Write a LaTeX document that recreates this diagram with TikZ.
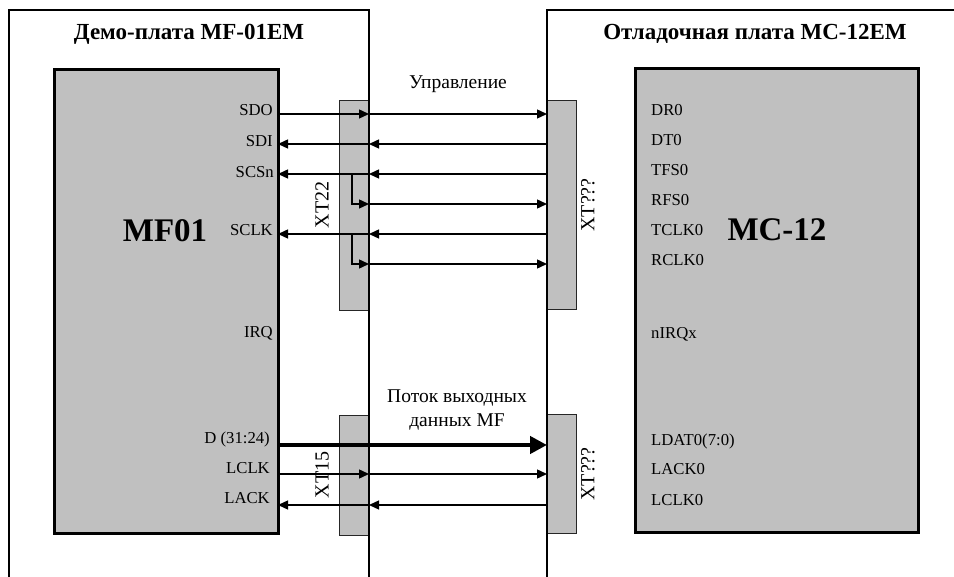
\documentclass[tikz,border=0pt]{standalone}
\usepackage{fontspec}
\setmainfont{Liberation Serif}
\usetikzlibrary{arrows.meta}
\definecolor{chipgray}{HTML}{C0C0C0}
\tikzset{
  board/.style={line width=1.5pt},
  chip/.style={draw, line width=3pt, fill=chipgray, inner sep=0pt, outer sep=0pt},
  conn/.style={draw=black!85, line width=0.8pt, fill=chipgray, inner sep=0pt, outer sep=0pt},
  sig/.style={line width=1.4pt},
  bus/.style={line width=4.5pt, -{Triangle[length=17pt,width=17pt]}},
  pin/.style={font=\fontsize{16.7}{17}\selectfont, inner sep=0pt},
  connlbl/.style={font=\fontsize{20}{20}\selectfont, inner sep=0pt, rotate=90},
  title/.style={font=\fontsize{23}{24}\bfseries\selectfont, inner sep=0pt},
  chiplbl/.style={font=\fontsize{33}{33}\bfseries\selectfont, inner sep=0pt},
  note/.style={font=\fontsize{19.5}{20}\selectfont, inner sep=0pt}
}
\begin{document}
\begin{tikzpicture}[x=1pt,y=-1pt,>={Triangle[length=10pt,width=9pt]}]
  \useasboundingbox (0,0) rectangle (954,577);
  % connectors
  \node[conn, minimum width=30pt, minimum height=210pt] (xt22) at (354,205) {};
  \node[conn, minimum width=29pt, minimum height=209pt] (xta) at (561.5,204.5) {};
  \node[conn, minimum width=30pt, minimum height=120pt] (xt15) at (354,475) {};
  \node[conn, minimum width=29pt, minimum height=119pt] (xtb) at (561.5,473.5) {};
  % boards
  \draw[board] (9,577) -- (9,10) -- (369,10) -- (369,577);
  \draw[board] (954,10) -- (547,10) -- (547,577);
  \node[title, anchor=base] (tleft) at (189,40) {Демо-плата MF-01EM};
  \node[title, anchor=base] (tright) at (755,40) {Отладочная плата MC-12EM};
  % chips
  \node[chip, minimum width=224pt, minimum height=463pt] (mf) at (166,301.5) {};
  \node[chip, minimum width=283pt, minimum height=463pt] (mc) at (776.5,300.5) {};
  \node[chiplbl, anchor=base] (mflbl) at (165,242) {MF01};
  \node[chiplbl, anchor=base] (mclbl) at (777,241) {MC-12};
  % connector labels
  \node[connlbl] (lxt22) at (322,205) {XT22};
  \node[connlbl] (lxta) at (588,205) {XT???};
  \node[connlbl] (lxt15) at (322,475) {XT15};
  \node[connlbl] (lxtb) at (588,474) {XT???};
  % pins of MF01
  \node[pin, anchor=base east] (pSDO) at (273,116) {SDO};
  \node[pin, anchor=base east] (pSDI) at (273,147) {SDI};
  \node[pin, anchor=base east] (pSCSn) at (274,178) {SCSn};
  \node[pin, anchor=base east] (pSCLK) at (273,236) {SCLK};
  \node[pin, anchor=base east] (pIRQ) at (273,338) {IRQ};
  \node[pin, anchor=base east] (pD) at (270,443) {D (31:24)};
  \node[pin, anchor=base east] (pLCLK) at (270,473) {LCLK};
  \node[pin, anchor=base east] (pLACK) at (270,503) {LACK};
  % pins of MC-12
  \node[pin, anchor=base west] (pDR) at (651,116) {DR0};
  \node[pin, anchor=base west] (pDT) at (651,146) {DT0};
  \node[pin, anchor=base west] (pTFS) at (651,176) {TFS0};
  \node[pin, anchor=base west] (pRFS) at (651,206) {RFS0};
  \node[pin, anchor=base west] (pTCLK) at (651,236) {TCLK0};
  \node[pin, anchor=base west] (pRCLK) at (651,266) {RCLK0};
  \node[pin, anchor=base west] (pnIRQ) at (651,339) {nIRQx};
  \node[pin, anchor=base west] (pLDAT) at (651,446) {LDAT0(7:0)};
  \node[pin, anchor=base west] (pLACK0) at (651,475) {LACK0};
  \node[pin, anchor=base west] (pLCLK0) at (651,505) {LCLK0};
  % notes
  \node[note, anchor=base] (ctl) at (458,89) {Управление};
  \node[note, anchor=base] (flow1) at (457,403) {Поток выходных};
  \node[note, anchor=base] (flow2) at (457,427) {данных MF};
  % rows
  \coordinate (r1) at (0,114);
  \coordinate (r2) at (0,144);
  \coordinate (r3) at (0,174);
  \coordinate (r4) at (0,204);
  \coordinate (r5) at (0,234);
  \coordinate (r6) at (0,264);
  \coordinate (r7) at (0,445);
  \coordinate (r8) at (0,474);
  \coordinate (r9) at (0,505);
  \coordinate (bx) at (352,0);
  % control links
  \draw[sig,->] (mf.east |- r1) -- (xt22.east |- r1);
  \draw[sig,->] (xt22.east |- r1) -- (xta.west |- r1);
  \draw[sig,->] (xta.west |- r2) -- (xt22.east |- r2);
  \draw[sig,->] (xt22.east |- r2) -- (mf.east |- r2);
  \draw[sig,->] (xta.west |- r3) -- (xt22.east |- r3);
  \draw[sig,->] (xt22.east |- r3) -- (mf.east |- r3);
  \draw[sig,->] (bx |- r3) -- (bx |- r4) -- (xt22.east |- r4);
  \draw[sig,->] (xt22.east |- r4) -- (xta.west |- r4);
  \draw[sig,->] (xta.west |- r5) -- (xt22.east |- r5);
  \draw[sig,->] (xt22.east |- r5) -- (mf.east |- r5);
  \draw[sig,->] (bx |- r5) -- (bx |- r6) -- (xt22.east |- r6);
  \draw[sig,->] (xt22.east |- r6) -- (xta.west |- r6);
  % data links
  \draw[bus] (mf.east |- r7) -- (xtb.west |- r7);
  \draw[sig,->] (mf.east |- r8) -- (xt15.east |- r8);
  \draw[sig,->] (xt15.east |- r8) -- (xtb.west |- r8);
  \draw[sig,->] (xtb.west |- r9) -- (xt15.east |- r9);
  \draw[sig,->] (xt15.east |- r9) -- (mf.east |- r9);
\end{tikzpicture}
\end{document}
